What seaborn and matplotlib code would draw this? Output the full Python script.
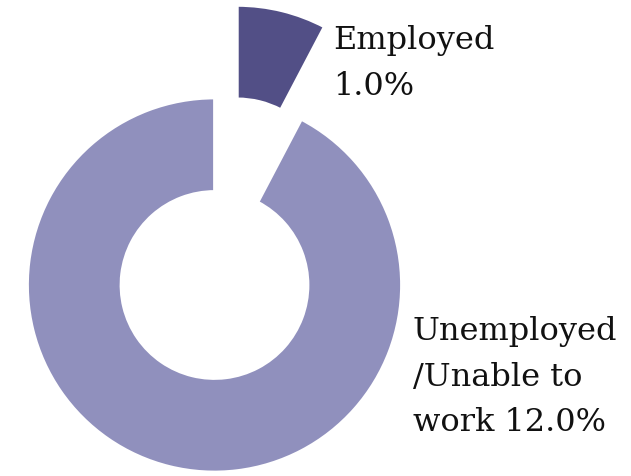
import matplotlib
matplotlib.use("Agg")
import matplotlib.pyplot as plt
import seaborn as sns

# data
labels = ["Employed\n1.0%", "Unemployed\n/Unable to\nwork 12.0%"]
values = [1.0, 12.0]
colors = ["#524f86", "#9090bd"]
explode = [0.51, 0]

sns.set_theme(style="white")
plt.rcParams["font.family"] = ["DejaVu Serif"]

fig = plt.figure(figsize=(6.31, 4.76), dpi=100)
ax = fig.add_axes([0, 0, 1, 1])

wedges, _ = ax.pie(values, colors=colors, explode=explode, startangle=90,
                   counterclock=False, radius=1,
                   wedgeprops=dict(width=0.5, edgecolor="white", linewidth=2))

# labels placed to the right of each slice
ax.text(0.634, 1.388, labels[0], fontsize=23, ha="left", va="top",
        color="#111111", linespacing=1.6)
ax.text(1.061, -0.168, labels[1], fontsize=23, ha="left", va="top",
        color="#111111", linespacing=1.6)

ax.set_xlim(-214.5 / 187, (631 - 214.5) / 187)
ax.set_ylim(-(476 - 285) / 187, 285 / 187)
ax.set_aspect("equal")
ax.axis("off")

fig.savefig("out.png", dpi=100)
